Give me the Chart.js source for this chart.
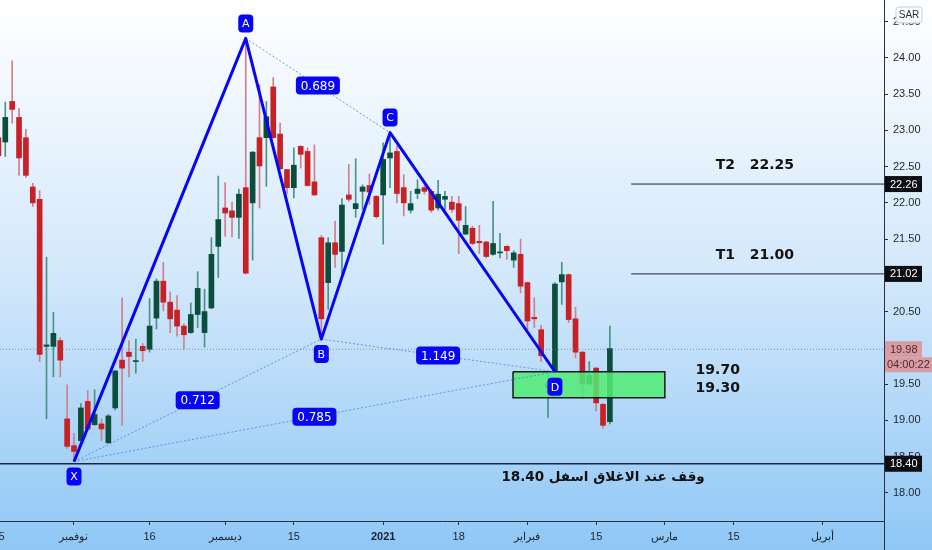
<!DOCTYPE html>
<html>
<head>
<meta charset="utf-8">
<script src="https://cdn.jsdelivr.net/npm/chart.js@4.4.1/dist/chart.umd.min.js"></script>
<style>
  html, body { margin: 0; padding: 0; background: #fff; }
  canvas { display: block; }
</style>
</head>
<body>
<canvas id="chart" width="932" height="550"></canvas>
<script>
// daily sessions, first one is 15 Oct 2020 (index -1), 1 Nov = index 10
const firstIdx = -1;
const opens = [22.90, 22.84, 23.40, 23.18, 22.90, 22.22, 22.05, 20.02, 20.02, 20.10,
  19.02, 18.65, 18.72, 19.26, 18.94, 18.95, 18.69, 19.17, 19.83, 19.94,
  19.81, 20.02, 19.98, 20.41, 20.92, 20.63, 20.52, 20.30, 20.21, 20.46,
  20.21, 20.55, 21.40, 21.93, 21.89, 21.80, 22.21, 22.00, 22.90, 22.90,
  23.60, 22.95, 22.46, 22.21, 22.78, 22.71, 22.29, 21.52, 20.90, 21.45,
  21.33, 22.11, 21.92, 22.16, 22.24, 22.09, 22.11, 22.62, 22.71, 22.21,
  21.90, 22.13, 22.21, 22.16, 21.93, 22.05, 22.01, 21.99, 21.57, 21.65,
  21.47, 21.46, 21.29, 21.31, 21.40, 21.21, 21.29, 20.90, 20.42, 20.25,
  19.45, 19.68, 20.91, 21.01, 20.40, 19.94, 19.50, 19.72, 19.22, 18.98];
const highs = [22.92, 23.39, 23.96, 23.30, 23.02, 22.27, 22.17, 21.25, 20.49, 20.14,
  19.49, 18.82, 19.23, 19.41, 19.42, 19.02, 19.08, 19.69, 20.69, 20.10,
  20.12, 20.06, 20.68, 20.95, 21.18, 20.77, 20.72, 20.33, 20.62, 21.05,
  20.81, 21.52, 22.37, 22.28, 22.01, 22.19, 24.27, 22.71, 23.63, 23.40,
  23.73, 23.10, 22.46, 22.76, 22.79, 22.76, 22.80, 21.55, 21.52, 21.75,
  22.06, 22.53, 22.61, 22.25, 22.40, 22.10, 22.83, 22.97, 22.78, 22.39,
  22.16, 22.32, 22.24, 22.18, 22.31, 22.16, 22.09, 22.09, 21.95, 21.68,
  21.69, 21.47, 22.02, 21.58, 21.41, 21.34, 21.50, 20.91, 20.69, 20.31,
  19.62, 20.90, 21.18, 21.02, 20.56, 19.95, 19.81, 19.73, 19.23, 20.30];
const lows = [22.60, 22.64, 23.10, 22.38, 22.35, 21.95, 19.81, 19.02, 19.60, 19.60,
  18.61, 18.43, 18.71, 18.86, 18.93, 18.72, 18.68, 19.14, 18.93, 19.60,
  19.65, 19.81, 19.94, 20.26, 20.51, 20.21, 20.16, 19.98, 20.20, 20.28,
  20.01, 20.54, 20.97, 21.54, 21.53, 21.51, 21.02, 21.21, 21.93, 22.23,
  22.89, 22.46, 22.12, 22.07, 22.48, 22.23, 22.10, 20.12, 20.53, 21.11,
  21.00, 22.02, 21.80, 21.91, 21.98, 21.79, 21.43, 22.21, 22.00, 21.82,
  21.86, 22.06, 22.12, 21.87, 21.90, 21.90, 21.87, 21.30, 21.56, 21.42,
  21.30, 21.24, 21.28, 21.24, 21.22, 21.11, 20.76, 20.25, 20.28, 19.81,
  19.04, 19.66, 20.60, 20.35, 19.86, 19.30, 19.48, 19.13, 18.89, 18.95];
const closes = [22.65, 23.18, 23.29, 22.62, 22.38, 22.00, 19.91, 20.04, 20.20, 19.83,
  18.64, 18.57, 19.17, 18.88, 19.08, 18.88, 19.06, 19.68, 19.72, 19.88,
  19.82, 19.96, 20.30, 20.92, 20.63, 20.40, 20.30, 20.18, 20.46, 20.82,
  20.50, 21.29, 21.77, 21.86, 21.80, 22.12, 21.03, 22.70, 22.51, 23.19,
  22.90, 22.47, 22.21, 22.52, 22.67, 22.24, 22.11, 20.40, 21.45, 21.29,
  21.97, 22.05, 21.99, 22.22, 22.15, 21.81, 22.60, 22.69, 22.13, 22.00,
  21.99, 22.19, 22.16, 21.90, 22.12, 22.09, 21.91, 21.76, 21.69, 21.44,
  21.45, 21.26, 21.44, 21.32, 21.34, 21.31, 20.85, 20.37, 20.40, 19.89,
  19.50, 20.88, 21.01, 20.39, 19.94, 19.50, 19.62, 19.24, 18.93, 19.99];

// x axis labels (session index -> text)
const tickIdx = [-1, 10, 21, 32, 42, 55, 66, 76, 86, 96, 106, 119];
const tickText = ['15', 'نوفمبر', '16', 'ديسمبر', '15', '2021', '18', 'فبراير', '15', 'مارس', '15', 'أبريل'];
const yTicks = [18.0, 18.5, 19.0, 19.5, 20.0, 20.5, 21.0, 21.5, 22.0, 22.5, 23.0, 23.5, 24.0, 24.5];

// XABCD harmonic pattern
const pivotNames = ['X', 'A', 'B', 'C', 'D'];
const pivotIdx = [10, 35, 46, 56, 80];
const pivotPrice = [18.43, 24.27, 20.12, 22.97, 19.67];
const ratioFrom = [0, 1, 2, 0];
const ratioTo = [2, 3, 4, 4];
const ratioText = ['0.712', '0.689', '1.149', '0.785'];

// targets, stop, entry zone
const targetPrices = [22.26, 21.02];
const targetText = ['T2   22.25', 'T1   21.00'];
const stopPrice = 18.40;
const stopText = 'وقف عند الاغلاق اسفل 18.40';
const zoneTop = 19.67;
const zoneBottom = 19.31;
const zoneFrom = 73.9;
const zoneTo = 96.0;
const zoneText = ['19.70', '19.30'];
const lastPrice = 19.98;
const countdown = '04:00:22';

const xMin = -0.771;
const xMax = 127.9;
const yMin = 17.61;
const yMax = 24.80;

const upBody = 'rgb(12,78,60)';
const upWick = 'rgb(76,146,134)';
const downBody = 'rgb(200,32,36)';
const downWick = 'rgb(206,128,140)';
const patternBlue = 'rgb(6,6,245)';
const darkLine = 'rgb(28,36,62)';
const noteFont = '600 14px "DejaVu Sans"';

const isUp = opens.map((o, i) => closes[i] >= o);
const wickData = opens.map((o, i) => ({ x: firstIdx + i, y: [lows[i], highs[i]] }));
const bodyData = opens.map((o, i) => ({ x: firstIdx + i, y: [o, closes[i]] }));

function pt(k) {
  return { x: pivotIdx[k], y: pivotPrice[k] };
}

const datasets = [
  {
    type: 'bar', data: wickData, order: 10, grouped: false,
    barThickness: 1, minBarLength: 1,
    backgroundColor: isUp.map(u => (u ? upWick : downWick)),
  },
  {
    type: 'bar', data: bodyData, order: 9, grouped: false,
    barThickness: 5, minBarLength: 1,
    backgroundColor: isUp.map(u => (u ? upBody : downBody)),
  },
  {
    type: 'line', order: 8, pointRadius: 0, borderWidth: 1,
    borderColor: 'rgba(110,120,140,0.7)', borderDash: [1, 2],
    data: [{ x: xMin, y: lastPrice }, { x: xMax, y: lastPrice }],
  },
  {
    type: 'line', order: 7, pointRadius: 0, borderWidth: 1.5,
    borderColor: 'rgb(20,24,30)', backgroundColor: 'rgba(80,236,116,0.86)', fill: 'shape',
    data: [
      { x: zoneFrom, y: zoneTop }, { x: zoneTo, y: zoneTop },
      { x: zoneTo, y: zoneBottom }, { x: zoneFrom, y: zoneBottom },
      { x: zoneFrom, y: zoneTop },
    ],
  },
  {
    type: 'line', order: 6, pointRadius: 0, borderWidth: 1.5, borderColor: darkLine,
    data: [{ x: xMin, y: stopPrice }, { x: xMax, y: stopPrice }],
  },
];

targetPrices.forEach(p => {
  datasets.push({
    type: 'line', order: 6, pointRadius: 0, borderWidth: 1, borderColor: darkLine,
    data: [{ x: 91.1, y: p }, { x: xMax, y: p }],
  });
});

ratioFrom.forEach((a, i) => {
  datasets.push({
    type: 'line', order: 5, pointRadius: 0, borderWidth: 1,
    borderColor: 'rgba(80,130,225,0.8)', borderDash: [2, 2],
    data: [pt(a), pt(ratioTo[i])],
  });
});

datasets.push({
  type: 'line', order: 4, pointRadius: 0, borderWidth: 3, borderColor: patternBlue,
  borderJoinStyle: 'round', data: pivotNames.map((n, k) => pt(k)),
});

function roundBox(ctx, cx, cy, w, h, r, fill, stroke) {
  ctx.beginPath();
  ctx.roundRect(cx - w / 2, cy - h / 2, w, h, r);
  ctx.fillStyle = fill;
  ctx.fill();
  if (stroke) {
    ctx.strokeStyle = stroke;
    ctx.lineWidth = 1;
    ctx.stroke();
  }
}

const bgPlugin = {
  id: 'bg',
  beforeDraw(chart) {
    const { ctx, width, height } = chart;
    const g = ctx.createLinearGradient(0, 0, 0, height);
    g.addColorStop(0, '#ffffff');
    g.addColorStop(0.5, '#d3e8fb');
    g.addColorStop(1, '#8fc7f5');
    ctx.save();
    ctx.fillStyle = g;
    ctx.fillRect(0, 0, width, height);
    ctx.restore();
  },
};

const notesPlugin = {
  id: 'notes',
  afterDatasetsDraw(chart) {
    const { ctx } = chart;
    const xs = chart.scales.x;
    const ys = chart.scales.y;
    ctx.save();
    ctx.textAlign = 'center';
    ctx.textBaseline = 'middle';

    // ratio labels at the middle of each dotted leg
    ctx.font = '12px "DejaVu Sans"';
    ratioFrom.forEach((a, i) => {
      const b = ratioTo[i];
      const cx = (xs.getPixelForValue(pivotIdx[a]) + xs.getPixelForValue(pivotIdx[b])) / 2;
      const cy = (ys.getPixelForValue(pivotPrice[a]) + ys.getPixelForValue(pivotPrice[b])) / 2;
      roundBox(ctx, cx, cy, 44, 18, 4, patternBlue);
      ctx.fillStyle = '#fff';
      ctx.fillText(ratioText[i], cx, cy + 1);
    });

    // pivot letters
    ctx.font = '11px "DejaVu Sans"';
    pivotNames.forEach((n, k) => {
      const side = k % 2 === 0 ? 1 : -1;
      const cx = xs.getPixelForValue(pivotIdx[k]);
      const cy = ys.getPixelForValue(pivotPrice[k]) + side * 15;
      roundBox(ctx, cx, cy, 15, 18, 4, patternBlue);
      ctx.fillStyle = '#fff';
      ctx.fillText(n, cx, cy + 1);
    });

    // text notes
    ctx.fillStyle = '#111';
    ctx.font = noteFont;
    targetPrices.forEach((p, i) => {
      ctx.fillText(targetText[i], xs.getPixelForValue(109.1), ys.getPixelForValue(p) - 19);
    });
    ctx.fillText(zoneText[0], xs.getPixelForValue(103.7), ys.getPixelForValue(zoneTop) - 1);
    ctx.fillText(zoneText[1], xs.getPixelForValue(103.7), ys.getPixelForValue(zoneBottom) - 9);
    ctx.direction = 'rtl';
    ctx.font = '600 13.5px "DejaVu Sans"';
    ctx.fillText(stopText, xs.getPixelForValue(87.0), ys.getPixelForValue(stopPrice) + 14);
    ctx.restore();
  },
  afterDraw(chart) {
    const { ctx, chartArea, height } = chart;
    const ys = chart.scales.y;
    ctx.save();
    // axis line runs down through the time axis
    ctx.strokeStyle = '#2b3040';
    ctx.lineWidth = 1;
    ctx.beginPath();
    ctx.moveTo(chartArea.right + 0.5, chartArea.bottom);
    ctx.lineTo(chartArea.right + 0.5, height);
    ctx.stroke();

    ctx.textAlign = 'left';
    ctx.textBaseline = 'middle';
    ctx.font = '11px "Liberation Sans"';
    const left = chartArea.right + 1;
    targetPrices.concat([stopPrice]).forEach(p => {
      const y = ys.getPixelForValue(p);
      ctx.fillStyle = '#0b0d12';
      ctx.fillRect(left, y - 8, 37, 16);
      ctx.fillStyle = '#fff';
      ctx.fillText(p.toFixed(2), left + 5, y + 0.5);
    });
    const ly = ys.getPixelForValue(lastPrice);
    ctx.fillStyle = 'rgb(214,158,164)';
    ctx.fillRect(left, ly - 8, 37, 16);
    ctx.fillRect(left, ly + 8, 47, 15);
    ctx.fillStyle = '#5a2630';
    ctx.fillText(lastPrice.toFixed(2), left + 5, ly + 0.5);
    ctx.fillText(countdown, left + 2, ly + 15.5);

    // currency badge
    roundBox(ctx, 909, 15, 26, 16, 3, 'rgba(255,255,255,0.92)', 'rgba(180,200,225,0.9)');
    ctx.fillStyle = '#2a2e39';
    ctx.font = '10px "Liberation Sans"';
    ctx.textAlign = 'center';
    ctx.fillText('SAR', 909, 15.5);
    ctx.restore();
  },
};

new Chart(document.getElementById('chart'), {
  type: 'bar',
  data: { datasets: datasets },
  options: {
    responsive: false,
    animation: false,
    devicePixelRatio: 1,
    layout: { padding: 0 },
    plugins: { legend: { display: false }, tooltip: { enabled: false } },
    scales: {
      x: {
        type: 'linear',
        position: 'bottom',
        min: xMin,
        max: xMax,
        offset: false,
        afterBuildTicks(s) { s.ticks = tickIdx.map(v => ({ value: v })); },
        afterFit(s) { s.height = 29; s.paddingLeft = 0; s.paddingRight = 0; },
        grid: { drawOnChartArea: false, offset: false, tickLength: 4, color: '#2b3040' },
        border: { color: '#2b3040', width: 1 },
        ticks: {
          autoSkip: false,
          maxRotation: 0,
          padding: 5,
          color: '#1c2230',
          callback: (v, i) => tickText[i],
          font: c => ({
            family: '"Liberation Sans"',
            size: 11,
            weight: c.tick && c.tick.value === 55 ? 'bold' : 'normal',
          }),
        },
      },
      y: {
        type: 'linear',
        position: 'right',
        min: yMin,
        max: yMax,
        afterBuildTicks(s) { s.ticks = yTicks.map(v => ({ value: v })); },
        afterFit(s) { s.width = 48; s.paddingTop = 0; s.paddingBottom = 0; },
        grid: { drawOnChartArea: false, tickLength: 4, color: '#2b3040' },
        border: { color: '#2b3040', width: 1 },
        ticks: {
          padding: 5,
          color: '#1c2230',
          callback: v => v.toFixed(2),
          font: { family: '"Liberation Sans"', size: 11 },
        },
      },
    },
  },
  plugins: [bgPlugin, notesPlugin],
});
</script>
</body>
</html>
